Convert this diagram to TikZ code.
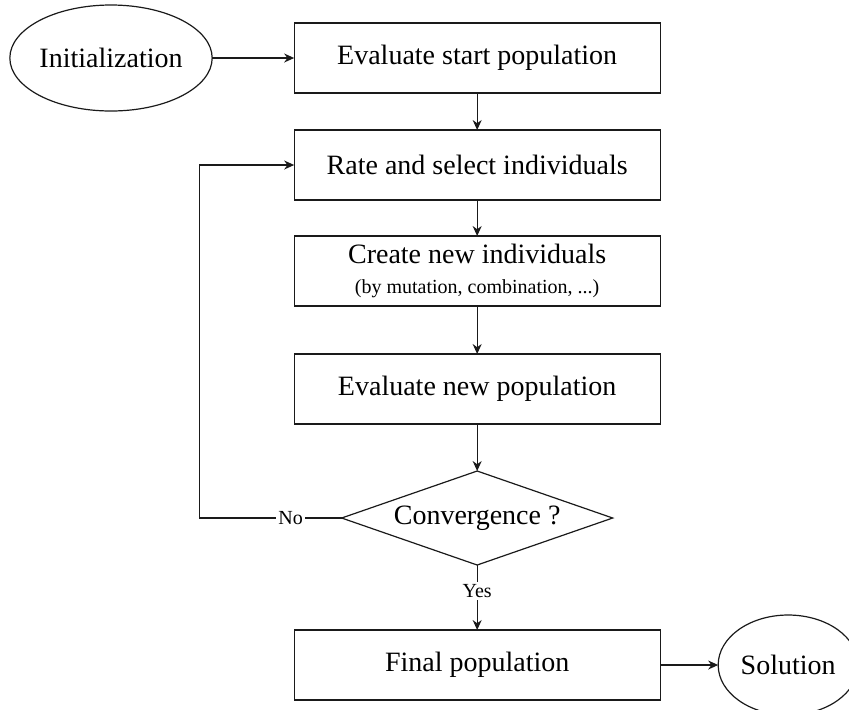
\documentclass[tikz,border=0pt]{standalone}
\usepackage{fontspec}
\setmainfont{Liberation Serif}
\usepackage{tikz}
\usetikzlibrary{arrows.meta,positioning,shapes.geometric}
\definecolor{ink}{HTML}{1A1A1A}
\tikzset{
  stepbox/.style={
    draw=ink,
    line width=0.6pt,
    align=center,
    minimum width=183pt,
    minimum height=35pt,
    inner xsep=3pt,
    inner ysep=1.5pt,
    outer sep=0pt,
    font=\fontsize{14pt}{16pt}\selectfont
  },
  endnode/.style={
    draw=ink,
    ellipse,
    line width=0.6pt,
    minimum width=101pt,
    minimum height=53pt,
    inner sep=0pt,
    outer sep=0pt,
    font=\fontsize{14pt}{16pt}\selectfont
  },
  testnode/.style={
    draw=ink,
    diamond,
    aspect=2.88,
    line width=0.6pt,
    minimum width=135.5pt,
    minimum height=47pt,
    inner sep=0pt,
    outer sep=0pt,
    font=\fontsize{14pt}{16pt}\selectfont
  },
  edgelabel/.style={fill=white,inner sep=1pt,font=\fontsize{10pt}{12pt}\selectfont},
  flowarrow/.style={-{Stealth[length=5pt,width=4.5pt]},line width=0.6pt,draw=ink}
}
\begin{document}
\begin{tikzpicture}[x=0.5pt,y=-0.5pt]
  \useasboundingbox (0,0) rectangle (849,709);
  \node[endnode] (init) at (111,58) {Initialization};
  \node[stepbox, right=41pt of init] (evalstart) {Evaluate start population};
  \node[stepbox, below=18.5pt of evalstart] (rate) {Rate and select individuals};
  \node[stepbox, below=18pt of rate] (create) {Create new individuals\\[-1pt]{\fontsize{10pt}{12pt}\selectfont (by mutation, combination, ...)}};
  \node[stepbox, below=24pt of create] (evalnew) {Evaluate new population};
  \node[testnode, below=23.5pt of evalnew] (conv) {Convergence ?};
  \node[stepbox, below=32.5pt of conv] (final) {Final population};
  \node[endnode, minimum width=70pt, minimum height=50pt, right=29pt of final] (sol) {Solution};
  \coordinate[left=71pt of conv.west] (loop);
  \draw[flowarrow] (init) -- (evalstart);
  \draw[flowarrow] (evalstart) -- (rate);
  \draw[flowarrow] (rate) -- (create);
  \draw[flowarrow] (create) -- (evalnew);
  \draw[flowarrow] (evalnew) -- (conv);
  \draw[flowarrow] (conv.west) -- node[edgelabel, pos=0.36] {No} (loop) |- (rate.west);
  \draw[flowarrow] (conv.south) -- node[edgelabel, pos=0.4] {Yes} (final);
  \draw[flowarrow] (final) -- (sol);
\end{tikzpicture}
\end{document}
